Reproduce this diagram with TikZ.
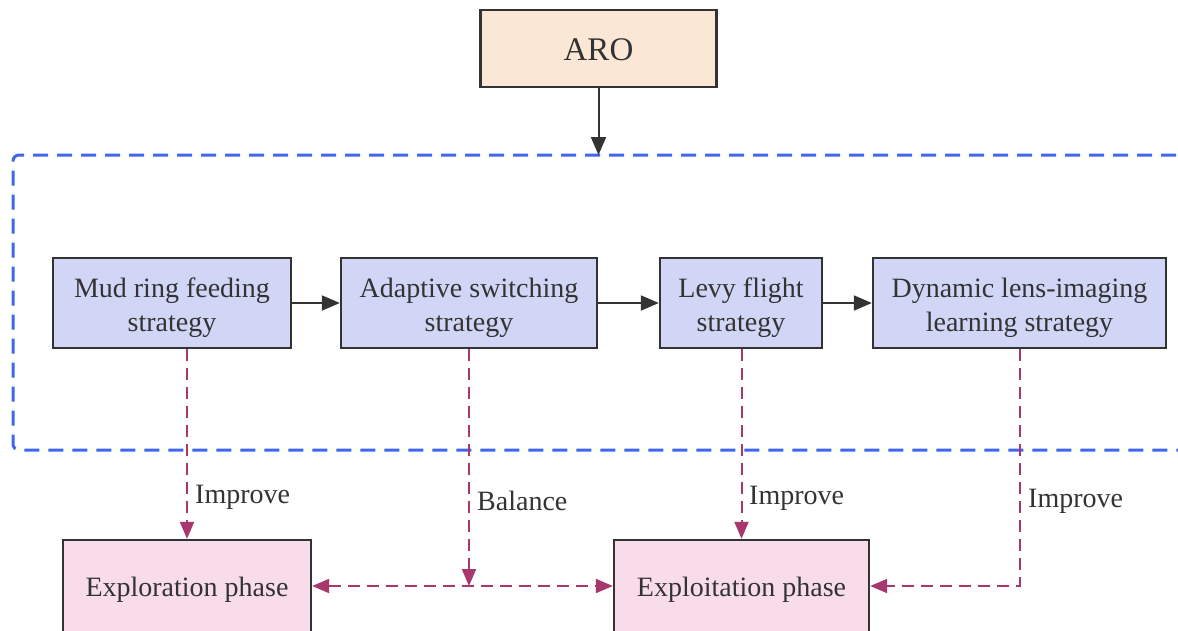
\documentclass[tikz,border=0pt]{standalone}
\usepackage{fontspec}
\setmainfont{Liberation Serif}
\usetikzlibrary{arrows.meta}
\definecolor{edgegray}{HTML}{333333}
\definecolor{arofill}{HTML}{FBE7D6}
\definecolor{stratfill}{HTML}{D1D5F6}
\definecolor{phasefill}{HTML}{F8DCEA}
\definecolor{frameblue}{HTML}{3F66EE}
\definecolor{purp}{HTML}{A8376E}
\newcommand\mystrut[1]{\rule{0pt}{#1}}
\tikzset{
  box/.style={draw=edgegray, line width=2.4pt, text=edgegray, align=center, inner sep=0pt,
    font=\fontsize{28}{34}\selectfont},
  stratbox/.style={box, fill=stratfill, minimum height=90pt},
  phasebox/.style={box, fill=phasefill, minimum height=92pt, font=\fontsize{28}{33}\selectfont},
  blackarrow/.style={draw=edgegray, line width=2pt, -{Triangle[length=18pt,width=15pt]}},
  purparrow/.style={draw=purp, line width=2pt, dash pattern=on 12pt off 7pt, -{Triangle[length=17pt,width=14pt]}},
  purpboth/.style={draw=purp, line width=2pt, dash pattern=on 12pt off 7pt, {Triangle[length=17pt,width=14pt]}-{Triangle[length=17pt,width=14pt]}},
  lab/.style={text=edgegray, anchor=west, inner sep=0pt, font=\fontsize{28}{32}\selectfont},
}
\begin{document}
\begin{tikzpicture}[x=1pt,y=-1pt]
\useasboundingbox (0,0) rectangle (1178,630);
\fill[white] (0,0) rectangle (1178,630);

% frame
\draw[frameblue, line width=3pt, dash pattern=on 15pt off 9pt, rounded corners=6pt]
  (1200,155) -- (13,155) -- (13,450) -- (1200,450);

% nodes
\node[box, fill=arofill, minimum width=236pt, minimum height=77pt,
      font=\fontsize{33}{38}\selectfont] (aro) at (598.5,48.5) {\mystrut{25pt}ARO};
\coordinate (aroin) at (598.5,155);

\node[stratbox, minimum width=238pt] (mud) at (172,303) {\mystrut{30pt}Mud ring feeding\\strategy};
\node[stratbox, minimum width=256pt] (adapt) at (469,303) {\mystrut{30pt}Adaptive switching\\strategy};
\node[stratbox, minimum width=162pt] (levy) at (741,303) {\mystrut{30pt}Levy flight\\strategy};
\node[stratbox, minimum width=293pt] (dyn) at (1019.5,303) {\mystrut{30pt}Dynamic lens-imaging\\learning strategy};

\node[phasebox, minimum width=248pt] (expl) at (187,586) {\mystrut{27pt}Exploration phase};
\node[phasebox, minimum width=255pt] (explt) at (741.5,586) {\mystrut{27pt}Exploitation phase};

% black arrows
\draw[blackarrow] (aro) -- (aroin);
\draw[blackarrow] (mud) -- (adapt);
\draw[blackarrow] (adapt) -- (levy);
\draw[blackarrow] (levy) -- (dyn);

% purple dashed arrows
\coordinate (bal) at (adapt.south |- expl.east);
\draw[purparrow] (mud.south -| expl.north) -- (expl.north);
\draw[purparrow] (adapt.south) -- (bal);
\draw[purparrow] (levy.south -| explt.north) -- (explt.north);
\draw[purparrow] (dyn.south) |- (explt.east);
\draw[purpboth] (expl.east) -- (explt.west);

% labels
\node[lab] (l1) at (195,497) {Improve};
\node[lab] (l2) at (477,501) {Balance};
\node[lab] (l3) at (749,498) {Improve};
\node[lab] (l4) at (1028,501) {Improve};
\end{tikzpicture}
\end{document}
